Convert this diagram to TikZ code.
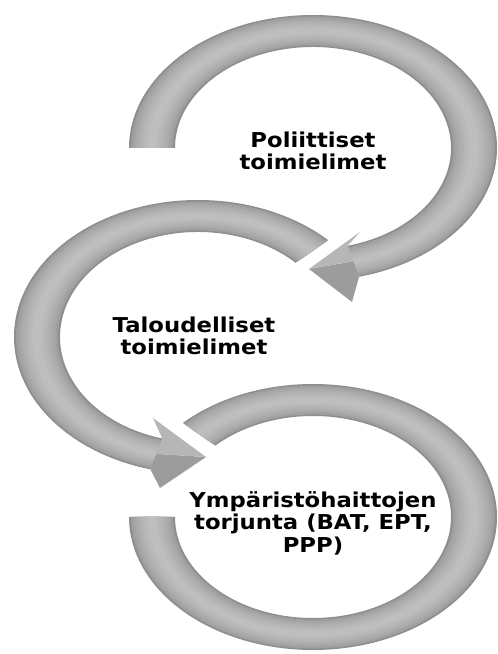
\documentclass[tikz,border=0pt]{standalone}
\usepackage{fontspec}
\newfontfamily\labelfont{DejaVu Sans}
\usetikzlibrary{calc}
\definecolor{bandLo}{HTML}{8E8E8E}
\definecolor{bandHi}{HTML}{BEBEBE}
\definecolor{headL}{HTML}{B6B6B6}
\definecolor{headD}{HTML}{9C9C9C}
% band: center, start, end, rxo, ryo, rxi, ryi, colour
\newcommand{\ringband}[8]{%
  \fill[#8] ($(#1)+(#2:#4pt and #5pt)$)
    arc[start angle=#2, end angle=#3, x radius=#4pt, y radius=#5pt]
    -- ($(#1)+(#3:#6pt and #7pt)$)
    arc[start angle=#3, end angle=#2, x radius=#6pt, y radius=#7pt] -- cycle;}
% shaded ring: center, start, end, rxo, ryo, rxi, ryi
\newcommand{\shadedring}[7]{%
  \foreach \k in {0,...,9}{%
    \pgfmathsetmacro{\tt}{0.046*\k}%
    \pgfmathsetmacro{\ra}{#4-\tt*(#4-#6)}\pgfmathsetmacro{\rb}{#5-\tt*(#5-#7)}%
    \pgfmathsetmacro{\rc}{#6+\tt*(#4-#6)}\pgfmathsetmacro{\rd}{#7+\tt*(#5-#7)}%
    \pgfmathtruncatemacro{\pc}{100*sqrt(\k/9)}%
    \colorlet{tmpband}{bandHi!\pc!bandLo}%
    \ringband{#1}{#2}{#3}{\ra}{\rb}{\rc}{\rd}{tmpband}}}
\tikzset{
  lbl/.style={font=\labelfont\bfseries\fontsize{20.5}{22.5}\selectfont,
    align=center, text=black, inner sep=0pt, xscale=1.11}
}
\begin{document}
\begin{tikzpicture}[x=1pt,y=1pt]
\useasboundingbox (0,0) rectangle (498,654);
\fill[white] (0,0) rectangle (498,654);
\coordinate (C1) at (313,506);
\coordinate (C2) at (198,317);
\coordinate (C3) at (313,137);

% ---- ring 3 (bottom, no head)
\shadedring{C3}{135}{-180}{184}{133}{138}{101}

% ---- ring 1 (top), head at bottom pointing left
\shadedring{C1}{180}{-75.5}{184}{133}{138}{101}
\coordinate (h1o) at ($(C1)+(-75.5:184pt and 133pt)$);
\coordinate (h1i) at ($(C1)+(-75.5:138pt and 101pt)$);
\coordinate (h1m) at ($(h1o)!0.5!(h1i)$);
\coordinate (b1o) at (352,352);
\coordinate (b1i) at (360,422);
\coordinate (t1) at (309,385);
\fill[headD] (t1) -- (b1o) -- (h1o) -- (h1m) -- cycle;
\fill[headL] (t1) -- (h1m) -- (h1i) -- (b1i) -- cycle;

% ---- ring 2 (middle), head at bottom pointing right
\shadedring{C2}{45}{255}{184}{137}{138}{105}
\coordinate (h2o) at ($(C2)+(255:184pt and 137pt)$);
\coordinate (h2i) at ($(C2)+(255:138pt and 105pt)$);
\coordinate (h2m) at ($(h2o)!0.5!(h2i)$);
\coordinate (b2o) at (160,166);
\coordinate (b2i) at (153,236);
\coordinate (t2) at (206,197);
\fill[headD] (t2) -- (b2o) -- (h2o) -- (h2m) -- cycle;
\fill[headL] (t2) -- (h2m) -- (h2i) -- (b2i) -- cycle;

% ---- labels
\node[lbl] (pol) at (313,503) {Poliittiset\\toimielimet};
\node[lbl] (tal) at (194,318) {Taloudelliset\\toimielimet};
\node[lbl] (ymp) at (313,131) {Ympäristöhaittojen\\torjunta (BAT, EPT,\\PPP)};
\end{tikzpicture}
\end{document}
